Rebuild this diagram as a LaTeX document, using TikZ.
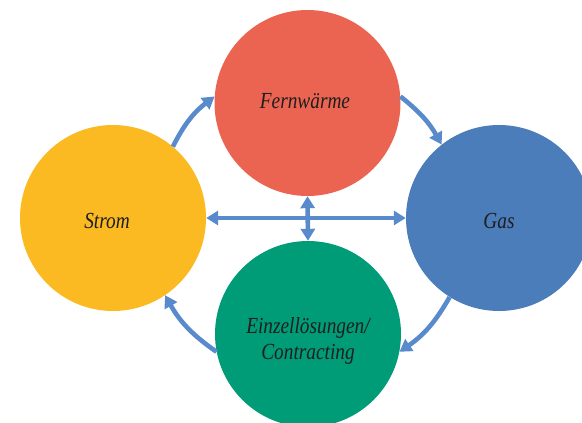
\documentclass[tikz,border=0pt]{standalone}
\usepackage{fontspec}
\setmainfont{Liberation Serif}
\usetikzlibrary{arrows.meta}
\definecolor{cRed}{RGB}{235,100,82}
\definecolor{cYel}{RGB}{251,186,34}
\definecolor{cBlu}{RGB}{74,125,186}
\definecolor{cGrn}{RGB}{0,155,119}
\definecolor{cArr}{RGB}{88,138,204}
\definecolor{cTxt}{RGB}{30,30,30}
\newcommand{\cond}[1]{\scalebox{0.84}[1]{#1}}
\tikzset{
  bubble/.style={circle, draw=none, minimum size=186pt, inner sep=0pt},
  lbl/.style={text=cTxt, font=\fontsize{23}{26}\selectfont\itshape, align=center, inner sep=0pt},
  conn/.style={draw=cArr, line width=4.6pt, -{Triangle[length=12pt,width=14pt]}},
  dconn/.style={draw=cArr, line width=4.6pt, {Triangle[length=12pt,width=14pt]}-{Triangle[length=12pt,width=14pt]}}
}
\begin{document}
\begin{tikzpicture}[x=1pt,y=-1pt]
\useasboundingbox (0,0) rectangle (582,423);
\clip (0,0) rectangle (582,423);
\node[bubble, fill=cRed] (fern) at (307.5,103) {};
\node[bubble, fill=cYel] (strom) at (113,218) {};
\node[bubble, fill=cBlu] (gas) at (499,218) {};
\node[bubble, fill=cGrn] (einz) at (308,334) {};
\node[lbl] (tfern) at (305,101) {\cond{Fernwärme}};
\node[lbl] (tstrom) at (107,221) {\cond{Strom}};
\node[lbl] (tgas) at (499,221) {\cond{Gas}};
\node[lbl] (teinz) at (308,341) {\cond{Einzellösungen/}\\\cond{Contracting}};
\path[conn] (strom.50) to[bend left=13] (fern.176);
\path[conn] (fern.4) to[bend left=11] (gas.128);
\path[conn] (gas.238) to[bend left=13] (einz.349);
\path[conn] (einz.191) to[bend left=13] (strom.304);
\path[dconn] (strom.east) -- (gas.west);
\path[dconn] (fern.south) -- (einz.north);
\end{tikzpicture}
\end{document}
